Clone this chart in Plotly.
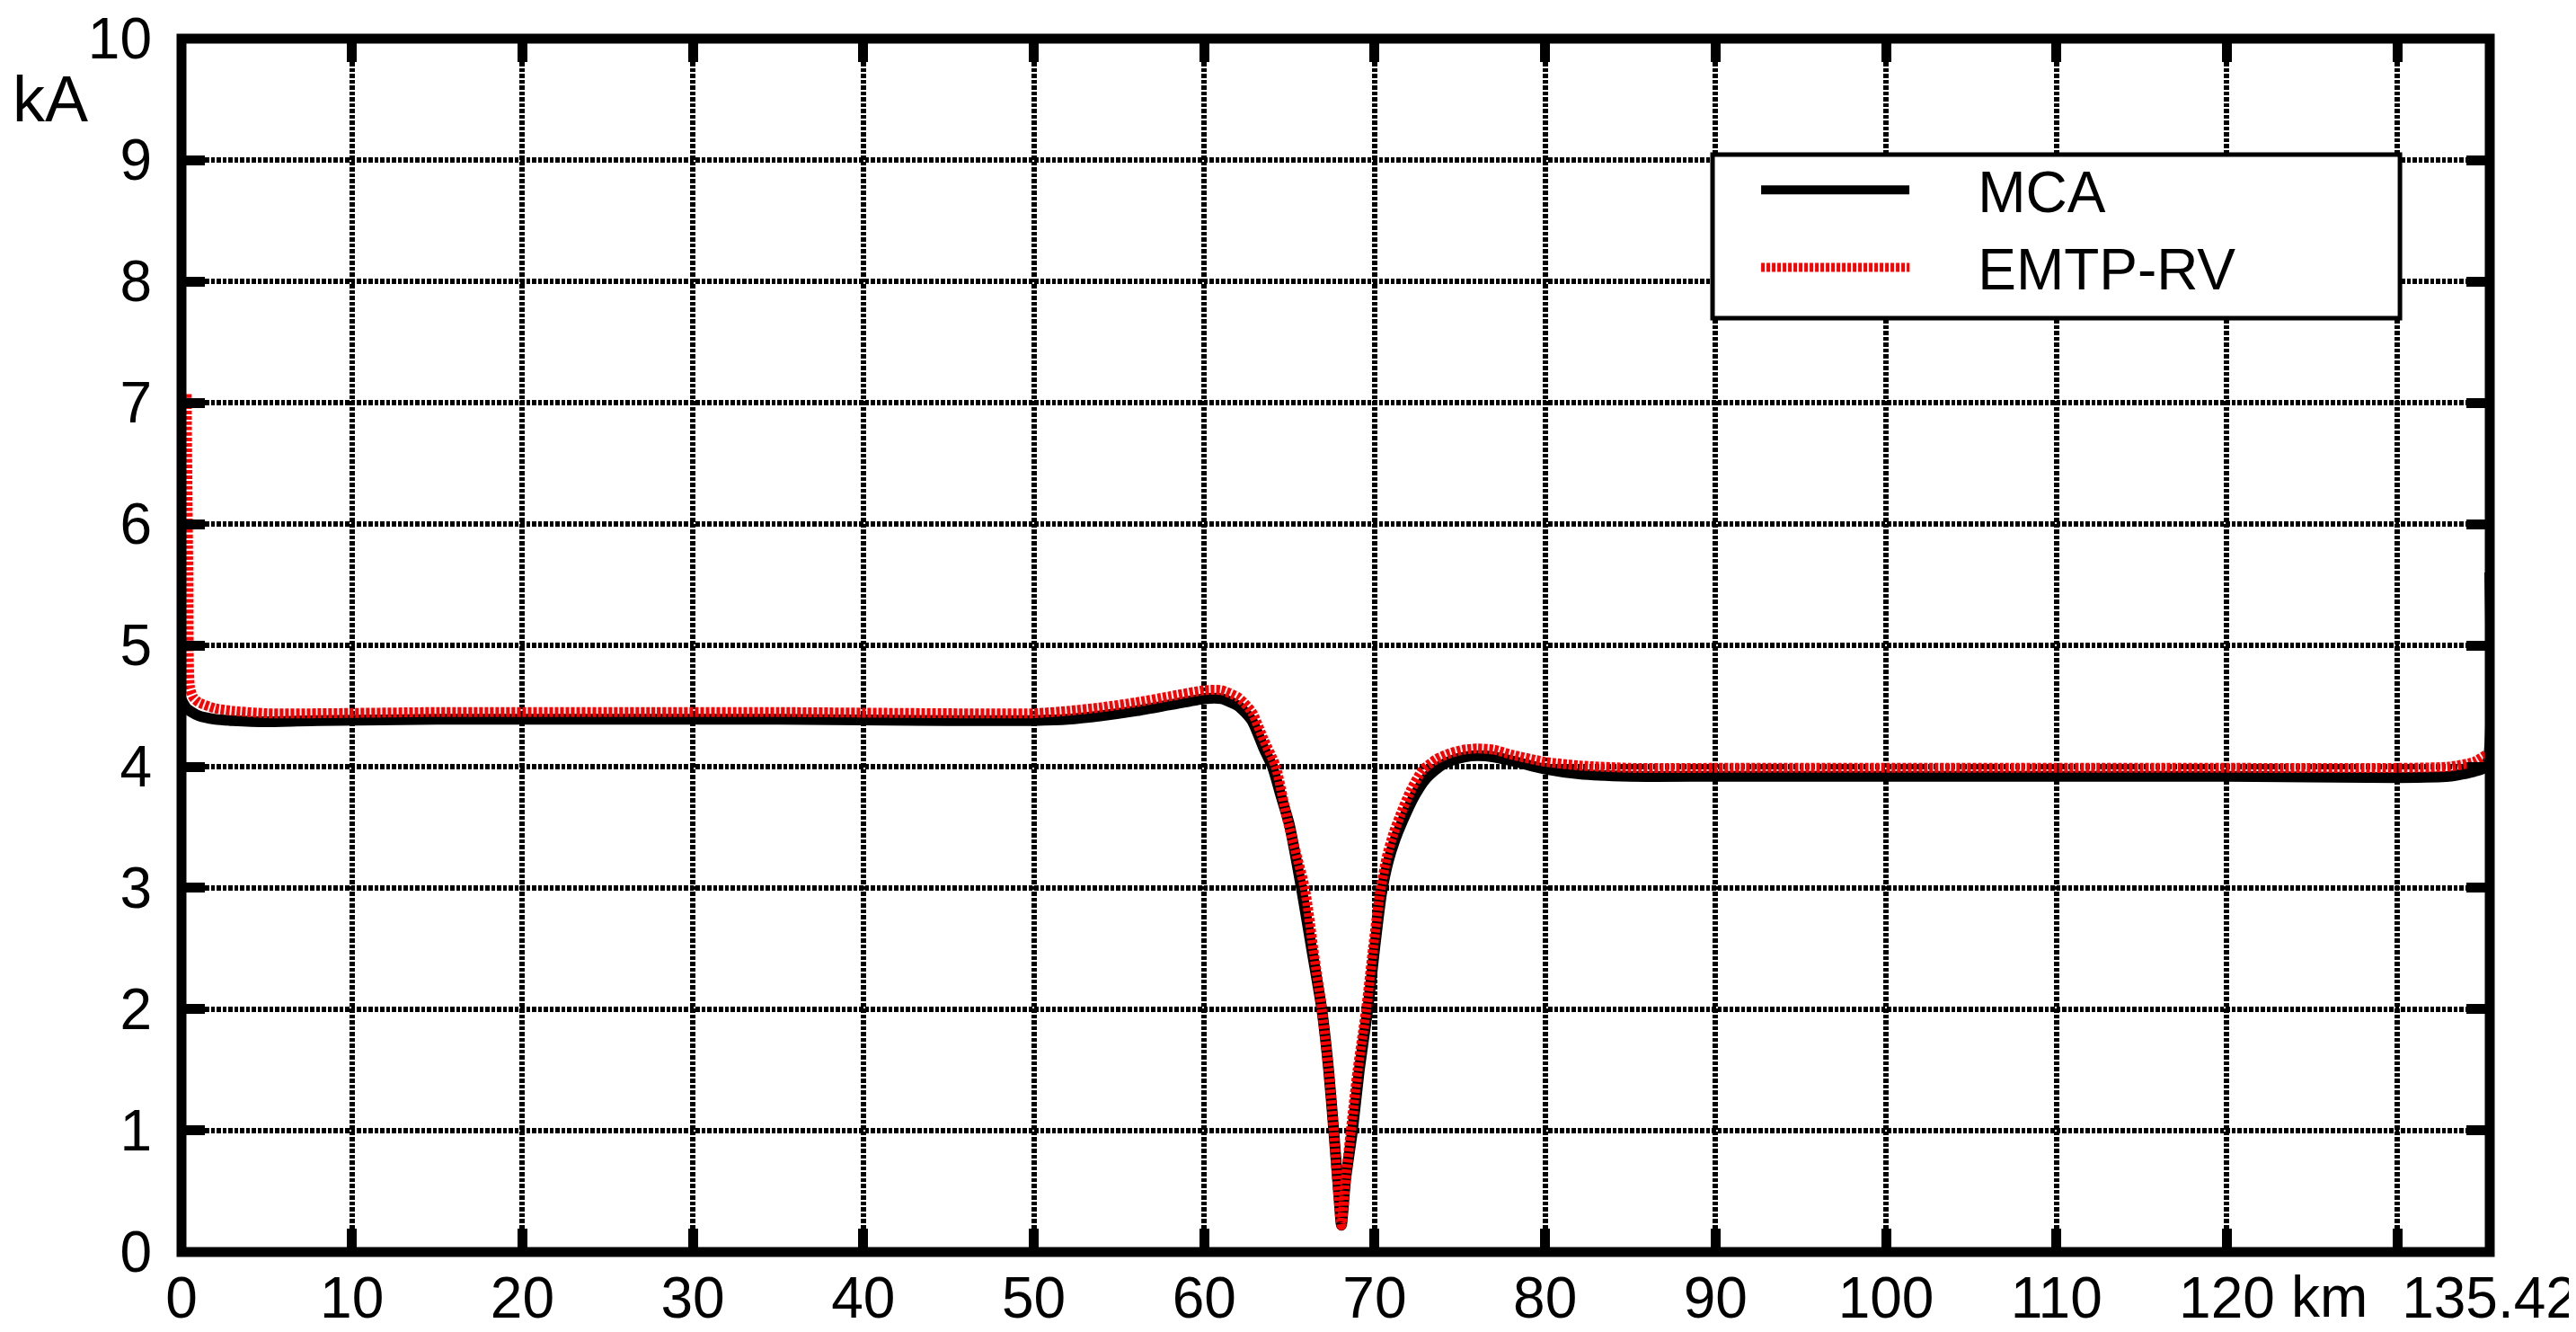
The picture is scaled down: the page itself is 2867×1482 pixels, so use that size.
import plotly.graph_objects as go

# ---- data ----
mca_km = [0, 0.3, 1, 2, 3, 5, 8, 15, 25, 35, 45, 50, 52, 54, 56, 58, 60, 61, 62, 62.8,
          63.5, 64, 64.5, 65, 65.7, 66.3, 66.9, 67.3, 67.6, 67.9, 68.05, 68.3, 68.7, 69.1,
          69.6, 70.0, 70.4, 70.8, 71.2, 71.6, 72.3, 73.0, 73.8, 74.5, 75.3, 76.0, 77.0, 78.0,
          80.0, 82.0, 85, 90, 100, 110, 120, 130, 133, 134.5, 135.2, 135.42]
mca_ka = [4.55, 4.48, 4.42, 4.39, 4.38, 4.37, 4.38, 4.39, 4.39, 4.39, 4.38, 4.38, 4.39,
          4.42, 4.46, 4.51, 4.56, 4.56, 4.50, 4.38, 4.15, 4.0, 3.76, 3.52, 3.0, 2.5, 2.0,
          1.5, 1.0, 0.46, 0.22, 0.6, 1.0, 1.5, 2.0, 2.5, 2.95, 3.22, 3.4, 3.54, 3.75, 3.9,
          4.0, 4.05, 4.08, 4.09, 4.08, 4.05, 3.98, 3.94, 3.92, 3.92, 3.92, 3.92, 3.92,
          3.91, 3.92, 3.96, 4.0, 5.6]

emtp_km = [0.3, 0.4, 0.5, 0.7, 1, 2, 3, 5, 8, 15, 25, 35, 45, 50, 52, 54, 56, 58, 60, 61,
           62, 62.8, 63.5, 64.2, 64.9, 65.9, 66.4, 66.9, 67.3, 67.6, 67.85, 68.05, 68.3,
           68.6, 69.0, 69.5, 69.9, 70.3, 70.7, 71.1, 71.5, 72.1, 72.8, 73.6, 74.4, 75.2,
           76.0, 77.0, 78.0, 80.0, 82.0, 85, 90, 100, 110, 120, 130, 133, 134.5, 135.42]
emtp_ka = [7.07, 5.6, 4.65, 4.57, 4.53, 4.48, 4.46, 4.44, 4.44, 4.45, 4.45, 4.45, 4.44,
           4.44, 4.46, 4.49, 4.53, 4.58, 4.63, 4.63, 4.57, 4.45, 4.22, 4.0, 3.55, 3.0,
           2.5, 2.0, 1.5, 1.0, 0.5, 0.22, 0.6, 1.0, 1.5, 2.0, 2.5, 2.95, 3.25, 3.45, 3.6,
           3.8, 3.97, 4.06, 4.11, 4.14, 4.15, 4.14, 4.1, 4.04, 4.01, 3.99, 3.99, 3.99,
           3.99, 3.99, 3.99, 4.0, 4.04, 4.12]

series_names = ["MCA", "EMTP-RV"]

x_tickvals = [0, 10, 20, 30, 40, 50, 60, 70, 80, 90, 100, 110, 120, 130, 135.42]
x_ticktext = ["0", "10", "20", "30", "40", "50", "60", "70", "80", "90", "100", "110",
              "120", "", "135.42"]
y_tickvals = [0, 1, 2, 3, 4, 5, 6, 7, 8, 9, 10]
y_ticktext = ["0", "1", "2", "3", "4", "5", "6", "7", "8", "9", "10"]

FONT = "Liberation Sans, Arial, sans-serif"
PAD = "\u00a0" * 4  # gap between legend sample and label

fig = go.Figure()
fig.add_trace(go.Scatter(x=mca_km, y=mca_ka, mode="lines", name=PAD + series_names[0],
                         line=dict(color="black", width=12, shape="spline", smoothing=0.6)))
fig.add_trace(go.Scatter(x=emtp_km, y=emtp_ka, mode="lines", name=PAD + series_names[1],
                         line=dict(color="#ff0000", width=11, dash="4px,2px",
                                   shape="spline", smoothing=0.6)))

axis_common = dict(
    showline=False, zeroline=False,
    showgrid=True, gridcolor="black", gridwidth=6, griddash="4.5px,2px",
    ticks="inside", ticklen=26, tickwidth=11, tickcolor="black", mirror="allticks",
    tickfont=dict(family=FONT, size=64, color="black"),
    ticklabeloverflow="allow",
)

fig.update_xaxes(range=[-0.0001, 135.4201], tickmode="array", tickvals=x_tickvals,
                 ticktext=x_ticktext, ticklabelstandoff=8, **axis_common)
fig.update_yaxes(range=[-0.0001, 10.0001], tickmode="array", tickvals=y_tickvals,
                 ticktext=y_ticktext, ticklabelstandoff=32, **axis_common)

# frame
fig.add_shape(type="rect", xref="paper", yref="paper", x0=0, y0=0, x1=1, y1=1,
              line=dict(color="black", width=11), layer="above")
# legend box
fig.add_shape(type="rect", xref="paper", yref="paper", x0=0.6633, y0=0.7696,
              x1=0.9611, y1=0.9044, fillcolor="white",
              line=dict(color="black", width=5), layer="above")

fig.add_annotation(text="kA", xref="paper", yref="paper", x=-0.0568, y=0.9505,
                   xanchor="center", yanchor="middle", showarrow=False,
                   font=dict(family=FONT, size=72, color="black"))
fig.add_annotation(text="km", xref="x", yref="paper", x=126.0, y=-0.0367,
                   xanchor="center", yanchor="middle", showarrow=False,
                   font=dict(family=FONT, size=64, color="black"))

fig.update_layout(
    width=2867, height=1482,
    margin=dict(l=194, r=104, t=35, b=97, autoexpand=False),
    paper_bgcolor="white", plot_bgcolor="white",
    showlegend=True,
    legend=dict(x=0.6824, y=0.911, xanchor="left", yanchor="top",
                bgcolor="rgba(0,0,0,0)", borderwidth=0,
                font=dict(family=FONT, size=64, color="black"),
                itemwidth=165, tracegroupgap=0),
)

fig.write_html("out.html")
